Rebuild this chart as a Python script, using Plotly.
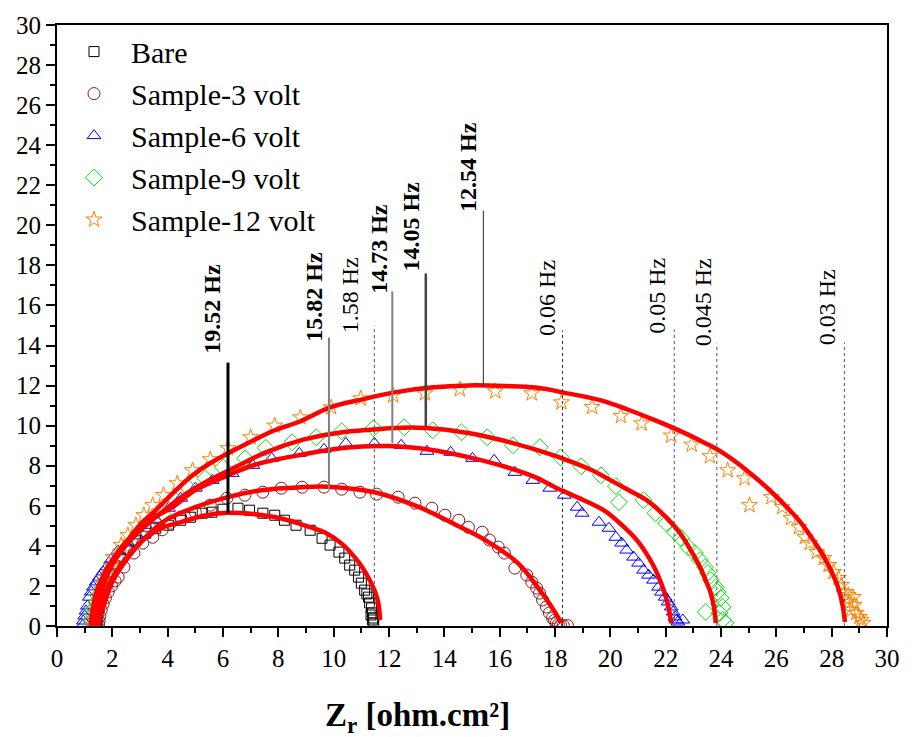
import plotly.graph_objects as go

# ---------------- data ----------------
series_names = ["Bare", "Sample-3 volt", "Sample-6 volt", "Sample-9 volt", "Sample-12 volt"]

bare_x = [1.42, 1.45, 1.48, 1.52, 1.57, 1.64, 1.72, 1.82, 1.95, 2.1, 2.3, 2.55, 2.85, 3.21, 3.57, 4.03, 4.47, 4.82,
          5.25, 5.6, 6.0, 6.54, 6.96, 7.44, 7.87, 8.22, 8.64, 9.15, 9.58, 9.87, 10.19, 10.4, 10.58, 10.76, 10.9,
          11.0, 11.12, 11.2, 11.26, 11.3, 11.37, 11.4, 11.44, 11.45, 11.4, 11.35]
bare_y = [0.05, 0.3, 0.6, 0.9, 1.2, 1.5, 1.85, 2.2, 2.6, 3.0, 3.4, 3.8, 4.25, 4.63, 4.88, 5.03, 5.28, 5.43,
          5.63, 5.68, 5.83, 5.88, 5.78, 5.63, 5.53, 5.28, 5.03, 4.78, 4.38, 4.04, 3.69, 3.39, 3.04, 2.79, 2.44,
          2.14, 1.79, 1.6, 1.44, 1.15, 0.9, 0.65, 0.4, 0.15, 0.3, 0.55]

s3_x = [1.5, 1.52, 1.55, 1.6, 1.67, 1.75, 1.85, 1.97, 2.1, 2.21, 2.42, 2.78, 3.1, 3.46, 3.8, 4.1, 4.47, 5.0,
        5.54, 6.14, 6.79, 7.44, 8.11, 8.86, 9.65, 10.29, 10.95, 11.55, 12.33, 12.94, 13.55, 14.02, 14.52, 14.87,
        15.37, 15.63, 15.95, 16.17, 16.55, 16.98, 17.16, 17.34, 17.44, 17.55, 17.69, 17.8, 17.91, 17.98, 18.05,
        18.12, 18.2, 18.3, 18.45]
s3_y = [0.05, 0.25, 0.5, 0.8, 1.1, 1.4, 1.7, 2.0, 2.25, 2.44, 2.94, 3.64, 4.14, 4.43, 4.8, 5.13, 5.43, 5.68,
        6.03, 6.38, 6.53, 6.68, 6.88, 6.93, 6.93, 6.83, 6.68, 6.58, 6.43, 6.13, 5.88, 5.53, 5.28, 4.93,
        4.68, 4.29, 3.94, 3.64, 2.89, 2.54, 2.19, 1.89, 1.64, 1.3, 0.95, 0.65, 0.4, 0.28, 0.15,
        0.08, 0.04, 0.02, 0.02]

s6_x = [0.92, 0.95, 1.0, 1.05, 1.1, 1.17, 1.24, 1.32, 1.42, 1.53, 1.66, 1.8, 1.95, 2.2, 2.56, 2.9, 3.28, 3.57,
        4.03, 4.47, 5.0, 5.61, 6.33, 7.08, 7.76, 8.76, 9.65, 10.44, 11.47, 12.44, 13.37, 14.23, 15.02, 15.8,
        16.55, 17.2, 17.81, 18.34, 18.8, 18.98, 19.59, 19.95, 20.2, 20.41, 20.59, 20.84, 21.02, 21.2, 21.38,
        21.56, 21.74, 21.85, 21.98, 22.09, 22.2, 22.27, 22.34, 22.39, 22.44, 22.62]
s6_y = [0.02, 0.25, 0.5, 0.75, 1.0, 1.44, 1.7, 1.95, 2.2, 2.44, 2.7, 2.95, 3.3, 3.75, 4.14, 4.5, 4.88, 5.33,
        5.88, 6.38, 6.88, 7.27, 7.62, 8.02, 8.37, 8.62, 8.82, 9.12, 9.12, 9.02, 8.72, 8.67, 8.37, 8.27,
        7.67, 7.27, 6.88, 6.53, 5.93, 5.63, 5.18, 4.88, 4.43, 4.14, 3.79, 3.44, 3.14, 2.79, 2.54,
        2.29, 1.94, 1.69, 1.44, 1.2, 0.95, 0.7, 0.45, 0.3, 0.2, 0.3]

s9_x = [1.25, 1.27, 1.3, 1.35, 1.42, 1.5, 1.6, 1.72, 1.87, 2.05, 2.42, 2.85, 3.32, 3.8, 4.25, 4.72, 5.36, 6.0,
        6.8, 7.54, 8.5, 9.37, 10.29, 11.44, 12.55, 13.58, 14.62, 15.55, 16.48, 17.45, 18.2, 18.95, 19.66, 20.2,
        20.31, 21.2, 21.63, 22.02, 22.34, 22.56, 22.81, 23.06, 23.24, 23.42, 23.52, 23.63, 23.81, 23.88, 23.99,
        24.06, 23.45, 23.95, 24.06, 24.17]
s9_y = [0.02, 0.3, 0.6, 0.9, 1.2, 1.5, 1.85, 2.2, 2.6, 3.0, 3.79, 4.43, 4.93, 5.6, 6.3, 6.93, 7.37, 7.92,
        8.37, 8.9, 9.17, 9.42, 9.72, 9.87, 9.92, 9.77, 9.67, 9.42, 9.02, 8.92, 8.42, 7.97, 7.52, 6.98,
        6.18, 6.28, 5.63, 5.13, 4.68, 4.38, 3.94, 3.64, 3.29, 2.94, 2.64, 2.29, 1.94, 1.69, 1.4,
        0.95, 0.7, 0.65, 0.3, 0.15]

s12_x = [1.3, 1.32, 1.36, 1.41, 1.47, 1.54, 1.62, 1.72, 1.84, 1.95, 2.04, 2.32, 2.56, 2.85, 3.14, 3.46, 3.85, 4.35,
         4.9, 5.54, 6.18, 7.0, 7.87, 8.8, 9.91, 10.98, 12.15, 13.3, 14.56, 15.84, 17.16, 18.23, 19.34, 20.38,
         21.13, 22.2, 22.94, 23.6, 24.24, 24.85, 25.03, 25.82, 26.21, 26.53, 26.82, 27.03, 27.21, 27.46, 27.71,
         27.89, 28.07, 28.25, 28.35, 28.46, 28.6, 28.78, 28.64, 28.82, 28.71, 28.89, 29.0, 29.07, 29.14]
s12_y = [0.02, 0.3, 0.6, 0.9, 1.2, 1.5, 1.8, 2.15, 2.5, 3.0, 3.44, 4.04, 4.53, 5.03, 5.53, 6.03, 6.53, 7.12,
         7.77, 8.32, 8.87, 9.42, 10.0, 10.41, 10.91, 11.36, 11.51, 11.61, 11.81, 11.71, 11.61, 11.16, 10.93, 10.48,
         10.11, 9.5, 9.05, 8.47, 7.77, 7.37, 6.03, 6.43, 5.93, 5.38, 4.93, 4.43, 4.14, 3.69, 3.39,
         3.04, 2.69, 2.39, 2.04, 1.69, 1.54, 1.44, 1.2, 1.05, 0.8, 0.65, 0.45, 0.3, 0.15]

# fitted curves
fit_bare_x = [1.45, 1.5, 1.65, 1.85, 2.25, 2.75, 3.2, 3.8, 4.5, 5.35, 6.2, 7.0, 7.8, 8.35, 9.0, 9.75, 10.3,
              10.75, 11.05, 11.3, 11.5, 11.62, 11.68]
fit_bare_y = [0.02, 0.65, 1.4, 2.0, 2.95, 3.8, 4.4, 4.9, 5.2, 5.52, 5.65, 5.6, 5.45, 5.28, 5.0, 4.62, 4.1,
              3.45, 2.9, 2.3, 1.7, 1.1, 0.3]
fit_s3_x = [1.5, 1.58, 1.67, 1.85, 2.03, 2.5, 3.1, 3.93, 5.0, 6.18, 7.4, 8.83, 9.8, 11.55, 13.09, 14.3, 15.48,
            16.66, 17.37, 17.88, 18.23]
fit_s3_y = [0.02, 0.6, 0.95, 1.7, 2.29, 3.29, 4.29, 5.28, 5.93, 6.43, 6.78, 6.93, 6.95, 6.65, 5.93, 5.13, 4.29,
            3.14, 1.94, 0.95, 0.15]
fit_s6_x = [1.22, 1.3, 1.45, 1.7, 2.0, 2.5, 3.1, 3.6, 4.18, 5.0, 6.18, 7.15, 8.83, 10.4, 12.0, 13.5, 14.9, 16.2,
            17.3, 18.0, 19.0, 19.8, 20.45, 20.95, 21.4, 21.7, 21.95, 22.1, 22.2]
fit_s6_y = [0.02, 0.9, 1.8, 2.6, 3.3, 4.2, 5.0, 5.5, 5.93, 6.78, 7.52, 8.05, 8.55, 8.9, 8.98, 8.8, 8.42, 7.95,
            7.42, 6.93, 6.3, 5.75, 5.0, 4.3, 3.4, 2.6, 1.7, 0.95, 0.15]
fit_s9_x = [1.32, 1.4, 1.55, 1.8, 2.1, 2.6, 3.2, 3.9, 4.75, 5.6, 6.55, 7.55, 8.9, 10.2, 11.3, 12.5, 13.34, 14.8,
            16.09, 17.3, 18.45, 19.3, 20.02, 20.7, 21.31, 22.0, 22.52, 22.9, 23.24, 23.5, 23.63, 23.75, 23.81]
fit_s9_y = [0.02, 0.9, 1.8, 2.6, 3.3, 4.2, 5.0, 5.8, 6.68, 7.35, 8.0, 8.67, 9.3, 9.65, 9.8, 9.9, 9.88, 9.65,
            9.27, 8.8, 8.27, 7.8, 7.27, 6.75, 6.28, 5.45, 4.63, 3.8, 2.94, 2.1, 1.64, 0.9, 0.15]
fit_s12_x = [1.4, 1.48, 1.62, 1.85, 2.15, 2.6, 3.0, 3.57, 4.2, 4.9, 5.5, 6.18, 7.0, 7.87, 8.8, 9.87, 11.0, 12.15,
             13.5, 14.9, 16.2, 17.3, 18.5, 19.66, 20.6, 21.56, 22.5, 23.4, 24.0, 24.9, 25.74, 26.4, 26.92, 27.4,
             27.74, 28.05, 28.25, 28.4, 28.48]
fit_s12_y = [0.02, 0.9, 1.8, 2.65, 3.45, 4.35, 5.05, 5.78, 6.65, 7.52, 8.1, 8.62, 9.2, 9.77, 10.22, 10.91, 11.3,
             11.65, 11.9, 12.01, 11.98, 11.9, 11.6, 11.26, 10.82, 10.3, 9.75, 9.15, 8.7, 7.8, 6.8, 5.9, 5.1, 4.15,
             3.4, 2.55, 1.85, 1.0, 0.2]

# frequency markers
freq_labels = ["<b>19.52 Hz</b>", "<b>15.82 Hz</b>", "1.58 Hz", "<b>14.73 Hz</b>", "<b>14.05 Hz</b>",
               "<b>12.54 Hz</b>", "0.06 Hz", "0.05 Hz", "0.045 Hz", "0.03 Hz"]
freq_line_x = [6.18, 9.83, 11.47, 12.12, 13.33, 15.41, 18.27, 22.31, 23.85, 28.46]
freq_line_y0 = [5.63, 6.83, 0.0, 9.12, 9.96, 11.96, 0.0, 0.0, 0.0, 0.0]
freq_line_y1 = [13.15, 14.4, 15.0, 16.7, 17.6, 20.73, 14.75, 14.8, 14.1, 14.15]
freq_text_x = [5.57, 9.26, 10.58, 11.61, 12.79, 14.83, 17.69, 21.66, 23.34, 27.82]
freq_text_y = [13.5, 14.1, 14.5, 16.49, 17.59, 20.58, 14.4, 14.5, 13.85, 13.9]

x_ticks = list(range(0, 31, 2))
y_ticks = list(range(0, 31, 2))

# ---------------- style ----------------
FONT = "Liberation Serif, Times New Roman, serif"
colors = ["#000000", "#8B1A1A", "#0000FF", "#00E600", "#FF8000"]
symbols = ["square-open", "circle-open", "triangle-up-open", "diamond-open", "star-open"]
sizes = [10, 12, 12, 13, 12]
line_styles = [
    dict(color="black", width=3),
    dict(color="#808080", width=2),
    dict(color="#555555", width=1, dash="dot"),
    dict(color="#808080", width=2),
    dict(color="#444444", width=2.5),
    dict(color="#222222", width=1),
    dict(color="#333333", width=1, dash="dot"),
    dict(color="#555555", width=1, dash="dot"),
    dict(color="#555555", width=1, dash="dot"),
    dict(color="#555555", width=1, dash="dot"),
]

data_x = [bare_x, s3_x, s6_x, s9_x, s12_x]
data_y = [bare_y, s3_y, s6_y, s9_y, s12_y]
fit_x = [fit_bare_x, fit_s3_x, fit_s6_x, fit_s9_x, fit_s12_x]
fit_y = [fit_bare_y, fit_s3_y, fit_s6_y, fit_s9_y, fit_s12_y]

fig = go.Figure()
for i, name in enumerate(series_names):
    assert len(data_x[i]) == len(data_y[i]), name
    fig.add_trace(go.Scatter(
        x=data_x[i], y=data_y[i], mode="markers", name=name,
        marker=dict(symbol=symbols[i], size=sizes[i], color=colors[i], line=dict(width=1, color=colors[i])),
    ))
for i in range(5):
    assert len(fit_x[i]) == len(fit_y[i])
    fig.add_trace(go.Scatter(
        x=fit_x[i], y=fit_y[i], mode="lines", showlegend=False, hoverinfo="skip",
        line=dict(color="#FF0000", width=4.5, shape="spline", smoothing=1.0),
    ))

for i, lab in enumerate(freq_labels):
    fig.add_shape(type="line", xref="x", yref="y",
                  x0=freq_line_x[i], x1=freq_line_x[i], y0=freq_line_y0[i], y1=freq_line_y1[i],
                  line=line_styles[i])
    fig.add_annotation(x=freq_text_x[i], y=freq_text_y[i], xref="x", yref="y", text=lab,
                       textangle=-90, showarrow=False, xanchor="center", yanchor="bottom",
                       font=dict(family=FONT, size=24, color="black"))

# x axis title
fig.add_annotation(x=0.434, y=-0.153, xref="paper", yref="paper",
                   text="<b>Z<sub>r</sub> [ohm.cm²]</b>", showarrow=False,
                   xanchor="center", yanchor="middle",
                   font=dict(family=FONT, size=33, color="black"))

axis_common = dict(
    showline=True, linecolor="black", linewidth=2, mirror=True,
    ticks="outside", ticklen=9, tickwidth=2, tickcolor="black",
    showgrid=False, zeroline=False,
    tickfont=dict(family=FONT, size=25, color="black"),
    minor=dict(ticks="outside", ticklen=5, tickwidth=1.5, tickcolor="black", dtick=1, showgrid=False),
)
fig.update_xaxes(range=[0, 30], tickvals=x_ticks, **axis_common)
fig.update_yaxes(range=[0, 30], tickvals=y_ticks, **axis_common)

fig.update_layout(
    width=912, height=737,
    margin=dict(l=57, r=16, t=24, b=111),
    plot_bgcolor="white", paper_bgcolor="white",
    font=dict(family=FONT, color="black"),
    legend=dict(x=0.0, y=0.999, xanchor="left", yanchor="top",
                font=dict(family=FONT, size=30, color="black"),
                bgcolor="rgba(0,0,0,0)", itemwidth=64, tracegroupgap=0),
)

fig.write_html("out.html")
